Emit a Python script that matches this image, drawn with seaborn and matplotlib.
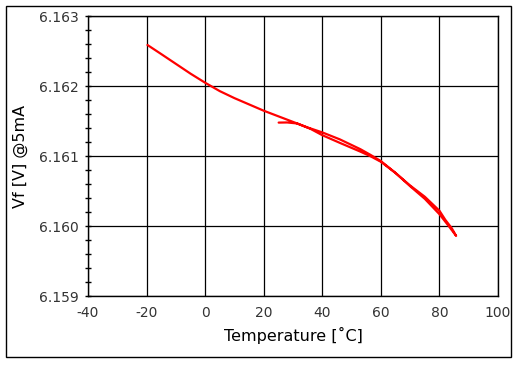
import matplotlib
matplotlib.use("Agg")
import matplotlib.pyplot as plt
import seaborn as sns
import pandas as pd
from matplotlib.ticker import FixedLocator, FormatStrFormatter
from matplotlib.patches import Rectangle

# Heating branch (25 -> 86 C)
temp_heat = [25.1, 28, 31.4, 36, 40, 46, 53, 56.4, 60, 65, 70, 75, 80, 83, 85.7]
vf_heat = [6.16148, 6.161482, 6.161468, 6.16139, 6.16130, 6.16119, 6.161065, 6.16100,
           6.16092, 6.16076, 6.16057, 6.16039, 6.16017, 6.16001, 6.15986]
# Cooling branch (86 -> -20 C)
temp_cool = [84.2, 82, 80, 75, 70, 65, 60, 56.4, 53, 46, 40, 35, 30, 25, 20, 15, 10,
             5, 0, -5, -10, -15, -19.7]
vf_cool = [6.15997, 6.16009, 6.16022, 6.16042, 6.16058, 6.16076, 6.16093, 6.16102,
           6.16110, 6.16124, 6.16134, 6.16141, 6.16149, 6.16157, 6.16165, 6.16174,
           6.16183, 6.16193, 6.16205, 6.16218, 6.16232, 6.16246, 6.16259]

x_ticks = [-40, -20, 0, 20, 40, 60, 80, 100]
y_ticks = [6.159, 6.160, 6.161, 6.162, 6.163]

df = pd.DataFrame({
    "Temperature": temp_heat + temp_cool,
    "Vf": vf_heat + vf_cool,
})

sns.set_theme(style="white")
plt.rcParams["font.family"] = ["DejaVu Sans"]
plt.rcParams["axes.unicode_minus"] = False

fig = plt.figure(figsize=(5.23, 3.65), dpi=100)
ax = fig.add_axes([0.1683, 0.189, 0.9522 - 0.1683, 0.9553 - 0.189])

sns.lineplot(data=df, x="Temperature", y="Vf", sort=False, estimator=None,
             color="#ff0000", linewidth=1.6, ax=ax)

ax.set_xlim(-40, 100)
ax.set_ylim(6.159, 6.163)
ax.set_xticks(x_ticks)
ax.set_yticks(y_ticks)
ax.yaxis.set_major_formatter(FormatStrFormatter("%.3f"))
minor = [y_ticks[0] + 0.0002 * i for i in range(21) if i % 5 != 0]
ax.yaxis.set_minor_locator(FixedLocator(minor))
ax.grid(True, which="major", color="black", linewidth=0.9)
ax.set_axisbelow(True)
for s in ax.spines.values():
    s.set_color("black")
    s.set_linewidth(1.0)

ax.tick_params(axis="x", length=0, labelsize=10, colors="#333333", pad=7)
ax.tick_params(axis="y", which="major", length=5, direction="inout", width=1,
               labelsize=10, labelcolor="#333333", color="black", pad=4, left=True)
ax.tick_params(axis="y", which="minor", length=5, direction="inout", width=1,
               color="black", left=True)

ax.set_xlabel("Temperature [˚C]", fontsize=11.5, color="black", labelpad=5)
ax.set_ylabel("Vf [V] @5mA", fontsize=11.5, color="black", labelpad=8)

fig.patches.append(Rectangle((5.5 / 523, 1 - 357 / 365), (511 - 5.5) / 523,
                             (357 - 5.5) / 365, transform=fig.transFigure,
                             fill=False, edgecolor="black", linewidth=1.0))

fig.savefig("out.png", dpi=100, facecolor="white")
